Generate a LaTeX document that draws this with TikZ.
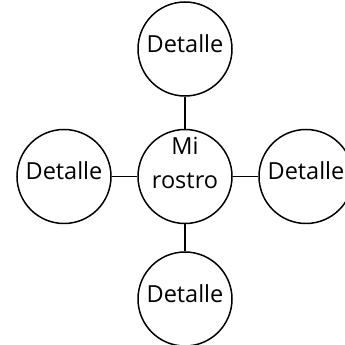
\documentclass[tikz,border=0pt]{standalone}
\usepackage{fontspec}
\setmainfont{Open Sans}
\begin{document}
\begin{tikzpicture}[x=1pt,y=1pt,
  bubble/.style={circle,draw=black,line width=1.5pt,minimum size=94pt,inner sep=0pt,font=\fontsize{23.5}{30}\selectfont,text height=12pt,text depth=5pt},
  txt/.style={inner sep=0pt,font=\fontsize{23.5}{30}\selectfont,anchor=base},
  link/.style={line width=1.5pt}]
\useasboundingbox (0,0) rectangle (345,345);
\clip (0,0) rectangle (345,345);
\node[bubble] (c) at (185,168.5) {};
\node[txt] (c1) at (185,190) {Mi};
\node[txt] (c2) at (185,156) {rostro};
\node[bubble] (t) at (185,296) {Detalle};
\node[bubble] (b) at (185,46) {Detalle};
\node[bubble] (l) at (64,168.5) {Detalle};
\node[bubble] (r) at (306,168.5) {Detalle};
\draw[link] (t) -- (c);
\draw[link] (c) -- (b);
\draw[link] (l) -- (c);
\draw[link] (c) -- (r);
\end{tikzpicture}
\end{document}
